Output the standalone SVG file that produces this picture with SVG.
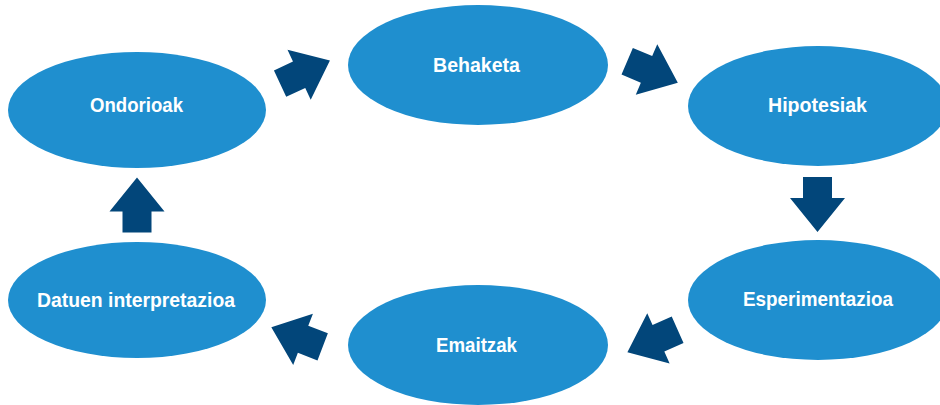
<svg xmlns="http://www.w3.org/2000/svg" width="940" height="405" viewBox="0 0 940 405">
<style>
.n{fill:#1F8FCF}
.t{fill:#fff;font-family:"Liberation Sans Narrow","Liberation Sans",Arial,sans-serif;font-weight:bold;font-size:20.5px;text-anchor:middle}
.a{fill:#02467A}
</style>
<defs>
<polygon id="arr" points="-27.5,-14.5 -6.5,-14.5 -6.5,-27.5 27.5,0 -6.5,27.5 -6.5,14.5 -27.5,14.5"/>
</defs>
<rect width="940" height="405" fill="#fff"/>
<g id="connectors">
<use href="#arr" class="a" transform="translate(305,72) rotate(-25)"/>
<use href="#arr" class="a" transform="translate(652.5,72) rotate(23)"/>
<use href="#arr" class="a" transform="translate(817.5,204.5) rotate(90)"/>
<use href="#arr" class="a" transform="translate(652.5,341) rotate(156)"/>
<use href="#arr" class="a" transform="translate(297,337) rotate(201)"/>
<use href="#arr" class="a" transform="translate(137,205) rotate(-90)"/>
</g>
<g id="ondorioak"><ellipse class="n" cx="137" cy="110" rx="129" ry="58"/><text class="t" x="136.5" y="112" textLength="93" lengthAdjust="spacingAndGlyphs">Ondorioak</text></g>
<g id="behaketa"><ellipse class="n" cx="478" cy="65" rx="130" ry="60"/><text class="t" x="476.5" y="72" textLength="87" lengthAdjust="spacingAndGlyphs">Behaketa</text></g>
<g id="hipotesiak"><ellipse class="n" cx="818" cy="106" rx="130" ry="60"/><text class="t" x="817.5" y="112" textLength="99" lengthAdjust="spacingAndGlyphs">Hipotesiak</text></g>
<g id="esperimentazioa"><ellipse class="n" cx="818" cy="300" rx="130" ry="60"/><text class="t" x="818" y="306" textLength="150" lengthAdjust="spacingAndGlyphs">Esperimentazioa</text></g>
<g id="emaitzak"><ellipse class="n" cx="478" cy="345" rx="130" ry="60"/><text class="t" x="476.5" y="352" textLength="81" lengthAdjust="spacingAndGlyphs">Emaitzak</text></g>
<g id="datuen"><ellipse class="n" cx="137" cy="300" rx="129" ry="58"/><text class="t" x="136" y="307" textLength="198" lengthAdjust="spacingAndGlyphs">Datuen interpretazioa</text></g>
</svg>
